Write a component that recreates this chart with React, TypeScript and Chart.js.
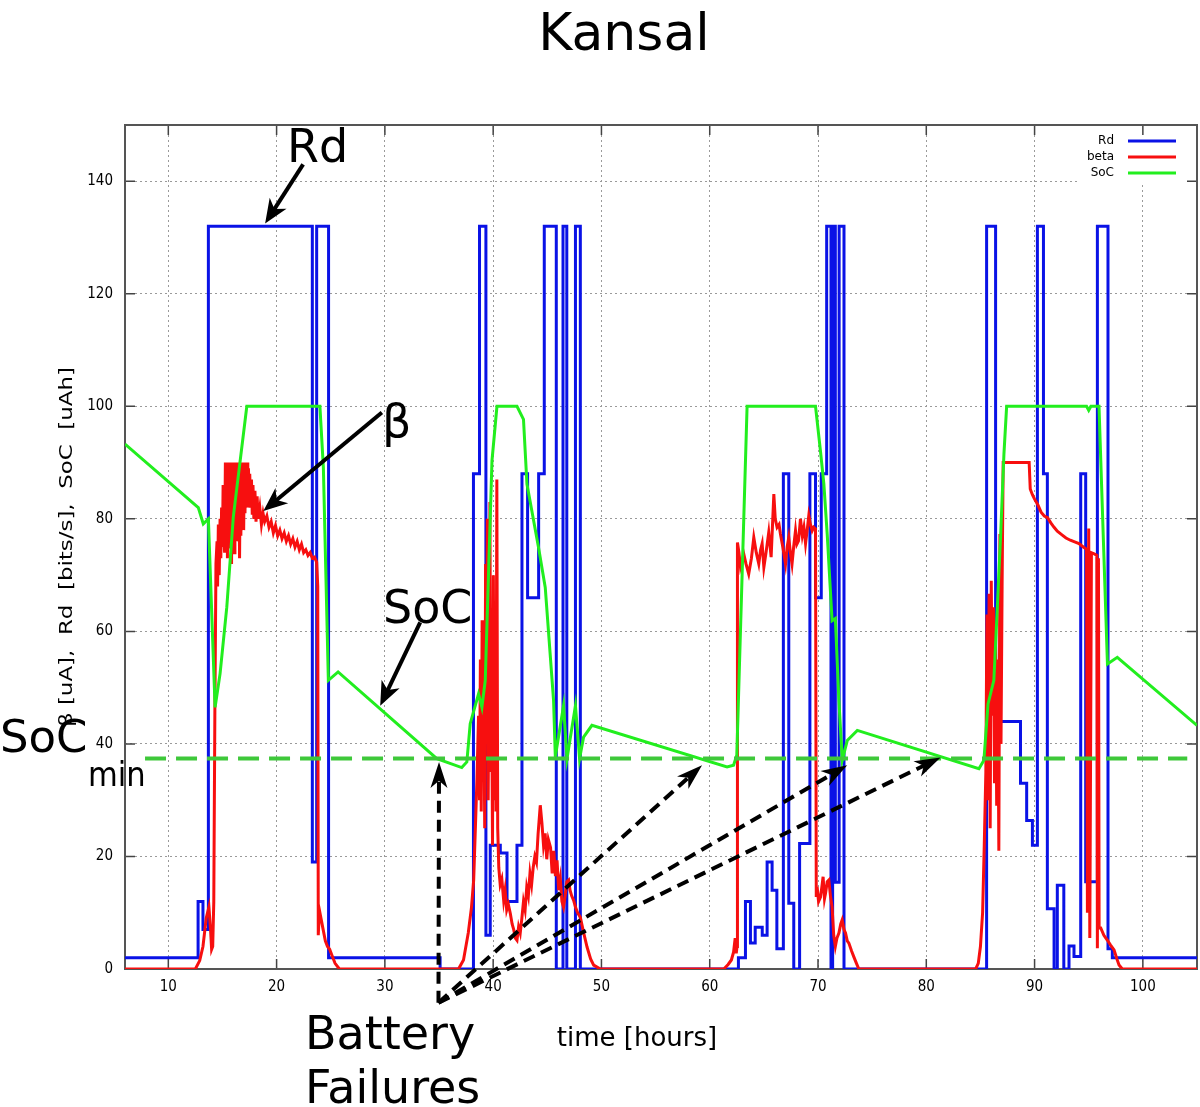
import React, { useEffect, useRef } from "react";
import { Chart, registerables } from "chart.js";

Chart.register(...registerables);

const W = 1200;
const H = 1107;

const chartTitle = "Kansal";
const xAxisTitle = "time [hours]";
const yAxisTitle = "β [uA],  Rd  [bits/s],  SoC  [uAh]";
const xTickValues = [10, 20, 30, 40, 50, 60, 70, 80, 90, 100];
const yTickValues = [0, 20, 40, 60, 80, 100, 120, 140];
const xRange = [6, 105];
const yRange = [0, 150];

const seriesNames = ["Rd", "beta", "SoC"];
const seriesColors = ["#0a12e6", "#f70f0f", "#22ee1e"];
const socMinColor = "#3ec83a";

// Rd: each value holds from its time until the next time (step)
const rdTime = [6, 12.75, 13.2, 13.7, 23.3, 23.7, 24.8, 35.1,
  38.18, 38.74, 39.33, 39.73, 40.66, 41.28, 42.2, 42.66, 43.18, 44.2, 44.72, 45.83, 46.45, 46.8, 47.6, 48.05,
  62.65, 63.3, 63.76, 64.2, 64.85, 65.3, 65.76, 66.2, 66.8, 67.3, 67.76, 68.3, 69.25, 69.77, 70.3, 70.8, 71.2, 71.35, 71.6, 71.95, 72.4,
  85.57, 86.4, 88.7, 89.27, 89.8, 90.26, 90.82, 91.18, 91.8, 92.1, 92.7, 93.18, 93.64, 94.26, 94.72, 95.8, 96.78, 97.18, 105];
const rdValue = [2, 12, 7, 132, 19, 132, 2, 0,
  88, 132, 6, 22, 20.6, 12, 22, 88, 66, 88, 132, 0, 132, 0, 132, 0,
  2, 12, 4.6, 7.4, 6, 19, 14, 3.6, 88, 11.7, 0, 22.3, 88, 66, 88, 132, 0, 132, 15.4, 132, 0,
  132, 44, 33, 26.4, 22, 132, 88, 10.7, 0, 14.9, 0, 4.1, 2.2, 88, 15.5, 132, 3.6, 2, 2];

// beta (noisy current)
const betaTime = [
  6, 12.5, 12.9, 13.2, 13.5, 13.75, 13.9, 14.0, 14.1, 14.2, 14.3, 14.4, 14.5, 14.55, 14.62, 14.7, 14.78, 14.85, 14.92, 15.0, 15.06, 15.13, 15.2,
  15.27, 15.33, 15.4, 15.46, 15.52, 15.58, 15.65, 15.7, 15.78, 15.84, 15.9, 15.96, 16.02, 16.08, 16.15, 16.2, 16.27, 16.33, 16.4, 16.46,
  16.52, 16.58, 16.65, 16.7, 16.78, 16.84, 16.9, 16.96, 17.02, 17.08, 17.15, 17.2, 17.28, 17.34, 17.4, 17.46, 17.52, 17.6, 17.68, 17.75,
  17.82, 17.9, 18.0, 18.1, 18.2, 18.3, 18.45, 18.6, 18.75, 18.9,
  19.1, 19.3, 19.5, 19.7, 19.9, 20.1, 20.3, 20.5, 20.7, 20.9, 21.1, 21.3, 21.5, 21.7, 21.9, 22.1, 22.3, 22.5, 22.7, 22.9, 23.1, 23.3, 23.5, 23.7,
  23.8, 23.85, 23.95, 24.1, 24.3, 24.5, 24.7, 24.9, 25.1, 25.4, 25.8,
  36.8, 37.26, 37.7, 38.0, 38.2, 38.5, 38.65, 38.74, 38.82, 38.9, 38.98, 39.06, 39.14, 39.22, 39.3, 39.38, 39.46, 39.54, 39.62, 39.7,
  39.78, 39.86, 39.94, 40.02, 40.1, 40.18, 40.26, 40.34, 40.42, 40.52, 40.65, 40.8, 40.97,
  41.1, 41.25, 41.4, 41.58, 41.75, 41.9, 42.05, 42.2, 42.35, 42.5, 42.65, 42.8, 42.95, 43.1, 43.25, 43.4, 43.55, 43.7, 43.85, 44.0,
  44.15, 44.35, 44.5, 44.65, 44.8, 44.95, 45.1, 45.3, 45.45, 45.6, 45.75, 45.9, 46.05, 46.2, 46.35, 46.5, 46.65, 46.8, 46.97, 47.1,
  47.25, 47.43, 47.6, 47.8, 48.05, 48.35, 48.67, 49.0, 49.28, 49.9, 61.3,
  61.7, 62.0, 62.2, 62.35, 62.45, 62.52, 62.56, 62.7, 62.84, 63.0, 63.14, 63.35, 63.6, 63.85, 64.07, 64.3, 64.53, 64.7, 64.84, 65.0,
  65.2, 65.45, 65.67, 65.8, 65.92, 66.05, 66.22, 66.4, 66.53, 66.75, 67.0, 67.15, 67.3, 67.45, 67.6, 67.75, 67.92, 68.05, 68.2, 68.38,
  68.55, 68.7, 68.85, 69.0, 69.15, 69.3, 69.46, 69.6, 69.77, 69.84,
  69.92, 70.05, 70.23, 70.35, 70.47, 70.6, 70.7, 70.85, 71.0, 71.15, 71.3, 71.45, 71.6, 71.75, 71.93, 72.1, 72.23, 72.4, 72.54, 72.7,
  72.85, 73.1, 73.3, 73.55, 73.77, 84.56,
  84.8, 85.0, 85.2, 85.35, 85.5, 85.6, 85.7, 85.8, 85.9, 86.0, 86.1, 86.2, 86.3, 86.4, 86.5, 86.6, 86.7, 86.8, 86.9, 87.0,
  87.1, 89.5, 89.6, 89.8, 90.0, 90.3, 90.6, 90.9, 91.2, 91.5, 91.8, 92.1, 92.5, 92.9, 93.3, 93.7, 94.1, 94.5, 94.8, 94.88,
  95.0, 95.1, 95.25, 95.5, 95.75, 95.8, 95.9, 95.96, 96.11, 96.4, 96.73, 97.0, 97.34, 97.6, 97.8, 98.1, 105];
const betaValue = [
  0, 0, 1.5, 4, 9, 11, 7, 3.5, 4, 12, 46, 72, 76, 68, 79, 70, 80, 73, 82, 75, 86, 77, 74,
  90, 76, 90, 73, 90, 78, 90, 75, 90, 72, 90, 78, 90, 74, 90, 80, 90, 76, 90, 79,
  90, 73, 90, 77, 90, 80, 90, 78, 90, 81, 90, 83, 90, 82, 89, 84, 88, 82, 87, 81,
  86, 80, 85, 79.5, 84, 80, 82, 79, 81, 79.5,
  80.5, 78.5, 79.5, 77.5, 78.8, 77, 78, 76.5, 77.5, 76, 77, 75.5, 76.5, 75, 76, 74.5, 75.5, 74, 74.5, 73.5, 74, 73, 73.2, 72.3,
  68, 6, 10.5, 9, 7, 5, 4, 3.5, 2.5, 1, 0,
  0, 1.6, 6.4, 11, 15.8, 33.5, 45, 30, 55, 28, 62, 35, 48, 25, 72, 40, 80, 30, 60, 83,
  35, 50, 22, 70, 30, 62, 28, 87, 25, 18, 15, 16, 12.2,
  14, 10.5, 11.5, 9.9, 8, 7, 5.5, 5.1, 7.5, 6.4, 9, 12, 10.5, 14.5, 13, 17, 15, 18.1, 20, 19,
  24, 29.1, 26, 22, 24.1, 19.5, 23, 21.6, 17, 21, 16.5, 19.3, 14, 16, 12, 11, 13, 15.5, 15.8, 14,
  13, 12.2, 11, 10, 9.2, 6.5, 3.9, 1.8, 0.7, 0, 0,
  0.8, 1.6, 3, 5.5, 2.8, 4, 75.8, 74, 71.4, 72.5, 73.8, 72, 70.2, 73, 76.7, 74, 72, 74.5, 75.6, 71.4,
  74, 77.6, 73.2, 79, 84.4, 80, 78.5, 79, 77.3, 75, 72, 75, 76.7, 74, 72, 75, 77.9, 75.5, 76.1, 80,
  77, 78.5, 75.6, 78, 80.6, 79, 77.9, 78.5, 78.2, 12.8,
  14.6, 12, 12.8, 14.5, 16.4, 12.5, 13.5, 15.5, 15.8, 13, 11, 6, 4, 5.5, 6.4, 8, 8.7, 7, 6.4, 5,
  4.6, 3.2, 2.2, 1, 0, 0,
  1, 4, 10, 21.7, 35, 63, 30, 66.7, 25, 69, 45, 64.3, 33, 60, 29, 55, 21, 77.3, 40, 68,
  90, 90, 85.3, 84.3, 83.5, 82.5, 81.2, 80.5, 80.2, 79.3, 78.5, 77.8, 77.2, 76.6, 76.2, 75.9, 75.6, 75.0, 74.6, 10,
  78.3, 5.5, 74, 73.8, 73.5, 3.7, 73, 7.3, 7.3, 6, 5.1, 4.3, 3.4, 1.8, 0.7, 0, 0];

// SoC (state of charge)
const socTime = [6, 12.77, 13.23, 13.7, 14.32, 14.78, 15.4, 16.0, 17.25, 24.0, 24.32, 24.78, 25.68, 34.8, 37.1, 37.57, 37.88,
  38.65, 38.96, 39.27, 39.89, 40.35, 42.2, 42.8, 43.12, 44.19, 44.81, 45.58, 45.74, 46.5, 46.82, 47.6, 47.98, 48.35, 49.12,
  61.6, 62.2, 62.5, 63.45, 69.77, 70.23, 70.54, 70.85, 71.3, 71.6, 71.93, 72.24, 72.7, 73.63,
  84.86, 85.32, 85.7, 86.24, 86.56, 86.87, 87.17, 87.42, 94.8, 95.0, 95.2, 95.95, 96.73, 97.64, 105];
const socValue = [93.3, 82, 79.1, 80, 46.5, 52.5, 64.3, 80.3, 100, 100, 89.1, 51.3, 52.8, 37.4, 35.8, 36.8, 43.6,
  48.9, 46.5, 51.3, 90.3, 100, 100, 97.7, 86.2, 74.9, 67.8, 47.7, 37.7, 46.8, 37.4, 46.8, 37.4, 41.2, 43.3,
  35.9, 36.2, 38, 100, 100, 92, 86.2, 77.3, 61.9, 62.3, 47.7, 37.1, 40.6, 42.4,
  35.6, 37.1, 47.1, 51.3, 64.3, 77.3, 91.5, 100, 100, 99.3, 100, 100, 54.2, 55.4, 43.3];

const socMinValue = 37.4;
const socMinSpan = [7.85, 104.1];

// arrows, in data units: [fromX, fromY, toX, toY]
const solidArrows = [
  [22.45, 143.0, 18.94, 132.5],
  [29.72, 98.9, 18.78, 81.4],
  [33.26, 61.6, 29.57, 46.8],
];
const failureOrigin = [34.95, -6.0];
const failureTargets = [
  [35.0, 36.8],
  [59.29, 36.2],
  [72.7, 36.2],
  [81.32, 37.6],
];

const SANS = "'DejaVu Sans', Verdana, sans-serif";
const NARROW = "'Liberation Sans Narrow', 'DejaVu Sans Condensed', sans-serif";

function toPoints(xs: number[], ys: number[]) {
  return xs.map((x, i) => ({ x, y: ys[i] }));
}

function drawArrow(ctx: CanvasRenderingContext2D, x1: number, y1: number, x2: number, y2: number,
  width: number, dash: number[], headLen: number, headW: number) {
  const ang = Math.atan2(y2 - y1, x2 - x1);
  const c = Math.cos(ang), s = Math.sin(ang);
  const px = -s, py = c;
  ctx.save();
  ctx.strokeStyle = "#000";
  ctx.fillStyle = "#000";
  ctx.lineWidth = width;
  ctx.setLineDash(dash);
  ctx.beginPath();
  ctx.moveTo(x1, y1);
  ctx.lineTo(x2 - c * headLen * 0.7, y2 - s * headLen * 0.7);
  ctx.stroke();
  ctx.setLineDash([]);
  const hx = x2 - c * headLen, hy = y2 - s * headLen;
  const nx = x2 - c * headLen * 0.72, ny = y2 - s * headLen * 0.72;
  ctx.beginPath();
  ctx.moveTo(x2, y2);
  ctx.lineTo(hx + px * headW / 2, hy + py * headW / 2);
  ctx.lineTo(nx, ny);
  ctx.lineTo(hx - px * headW / 2, hy - py * headW / 2);
  ctx.closePath();
  ctx.fill();
  ctx.restore();
}

const decorPlugin = {
  id: "decor",
  beforeDatasetsDraw(chart: any) {
    const { ctx, chartArea: a, scales } = chart;
    ctx.save();
    // legend background box hides grid
    ctx.fillStyle = "#fff";
    ctx.fillRect(1077, a.top + 1, a.right - 1077 - 1, 56);
    // inward ticks
    ctx.strokeStyle = "#444";
    ctx.lineWidth = 1.5;
    ctx.beginPath();
    xTickValues.forEach((v) => {
      const x = scales.x.getPixelForValue(v);
      ctx.moveTo(x, a.bottom);
      ctx.lineTo(x, a.bottom - 10);
      ctx.moveTo(x, a.top);
      ctx.lineTo(x, a.top + 10);
    });
    yTickValues.forEach((v) => {
      const y = scales.y.getPixelForValue(v);
      ctx.moveTo(a.left, y);
      ctx.lineTo(a.left + 10, y);
      ctx.moveTo(a.right, y);
      ctx.lineTo(a.right - 10, y);
    });
    ctx.stroke();
    // frame
    ctx.strokeStyle = "#555";
    ctx.lineWidth = 2;
    ctx.strokeRect(a.left, a.top, a.right - a.left, a.bottom - a.top);
    ctx.restore();
  },
  afterDraw(chart: any) {
    const { ctx, scales } = chart;
    const X = (v: number) => scales.x.getPixelForValue(v);
    const Y = (v: number) => scales.y.getPixelForValue(v);
    ctx.save();
    ctx.fillStyle = "#000";
    ctx.textBaseline = "alphabetic";

    // title
    ctx.font = `52px ${SANS}`;
    ctx.textAlign = "center";
    ctx.fillText(chartTitle, 624, 50);

    // x axis title
    ctx.font = `26px ${SANS}`;
    ctx.fillText(xAxisTitle, 637, 1046);

    // y axis title (rotated, stretched along its length)
    ctx.save();
    ctx.translate(68, 547);
    ctx.rotate(-Math.PI / 2);
    ctx.font = `17px ${SANS}`;
    const yw = ctx.measureText(yAxisTitle).width;
    ctx.scale(360 / yw, 1);
    ctx.textBaseline = "middle";
    ctx.fillText(yAxisTitle, 0, 0);
    ctx.restore();

    // legend
    ctx.font = `12px ${SANS}`;
    ctx.textAlign = "right";
    ctx.textBaseline = "middle";
    seriesNames.forEach((name, i) => {
      const yy = 141 + i * 16;
      ctx.fillStyle = "#000";
      ctx.fillText(name, 1114, yy);
      ctx.strokeStyle = seriesColors[i];
      ctx.lineWidth = 3;
      ctx.beginPath();
      ctx.moveTo(1128, yy);
      ctx.lineTo(1176, yy);
      ctx.stroke();
    });

    // annotation labels
    ctx.fillStyle = "#000";
    ctx.textAlign = "left";
    ctx.textBaseline = "alphabetic";
    ctx.font = `46px ${SANS}`;
    ctx.fillText("Rd", 287, 162);
    ctx.fillText("β", 382, 437);
    ctx.fillText("SoC", 383, 623);
    ctx.font = `45px ${SANS}`;
    ctx.fillText("SoC", 0, 752);
    ctx.font = `34px ${NARROW}`;
    ctx.fillText("min", 88, 786);
    ctx.font = `46px ${SANS}`;
    ctx.fillText("Battery", 305, 1049);
    ctx.fillText("Failures", 305, 1103);

    // arrows
    solidArrows.forEach(([x1, y1, x2, y2]) => {
      drawArrow(ctx, X(x1), Y(y1), X(x2), Y(y2), 4, [], 24, 20);
    });
    failureTargets.forEach(([x2, y2]) => {
      drawArrow(ctx, X(failureOrigin[0]), Y(failureOrigin[1]), X(x2), Y(y2), 4, [12, 7], 26, 17);
    });
    ctx.restore();
  },
};

export default function App() {
  const ref = useRef<HTMLCanvasElement | null>(null);
  useEffect(() => {
    const canvas = ref.current;
    if (!canvas) return;
    const chart = new Chart(canvas, {
      type: "line",
      data: {
        datasets: [
          {
            label: "SoCmin",
            data: toPoints(socMinSpan, [socMinValue, socMinValue]),
            borderColor: socMinColor,
            borderWidth: 4,
            borderDash: [21, 10],
            pointRadius: 0,
            fill: false,
          },
          {
            label: seriesNames[2],
            data: toPoints(socTime, socValue),
            borderColor: seriesColors[2],
            borderWidth: 3,
            pointRadius: 0,
            fill: false,
          },
          {
            label: seriesNames[1],
            data: toPoints(betaTime, betaValue),
            borderColor: seriesColors[1],
            borderWidth: 3,
            pointRadius: 0,
            fill: false,
          },
          {
            label: seriesNames[0],
            data: toPoints(rdTime, rdValue),
            borderColor: seriesColors[0],
            borderWidth: 3,
            stepped: "before",
            pointRadius: 0,
            fill: false,
          },
        ],
      },
      options: {
        responsive: false,
        devicePixelRatio: 1,
        animation: false,
        layout: { padding: { left: 0, top: 125, right: 3, bottom: 0 } },
        plugins: {
          legend: { display: false },
          title: { display: false },
          tooltip: { enabled: false },
        },
        elements: { line: { tension: 0 } },
        scales: {
          x: {
            type: "linear",
            min: xRange[0],
            max: xRange[1],
            afterBuildTicks: (s: any) => {
              s.ticks = xTickValues.map((v) => ({ value: v }));
            },
            afterFit: (s: any) => {
              s.height = 138;
            },
            grid: { color: "#9a9a9a", lineWidth: 1, drawTicks: false },
            border: { display: false, dash: [2, 3] },
            ticks: {
              color: "#000",
              padding: 9,
              maxRotation: 0,
              font: { family: NARROW, size: 15 },
            },
          },
          y: {
            type: "linear",
            min: yRange[0],
            max: yRange[1],
            afterBuildTicks: (s: any) => {
              s.ticks = yTickValues.map((v) => ({ value: v }));
            },
            afterFit: (s: any) => {
              s.width = 125;
            },
            grid: { color: "#9a9a9a", lineWidth: 1, drawTicks: false },
            border: { display: false, dash: [2, 3] },
            ticks: {
              color: "#000",
              padding: 12,
              font: { family: NARROW, size: 15 },
            },
          },
        },
      },
      plugins: [decorPlugin],
    } as any);
    return () => chart.destroy();
  }, []);
  return (
    <div style={{ position: "absolute", left: 0, top: 0, width: W, height: H, background: "#fff" }}>
      <canvas ref={ref} width={W} height={H} style={{ display: "block" }} />
    </div>
  );
}
